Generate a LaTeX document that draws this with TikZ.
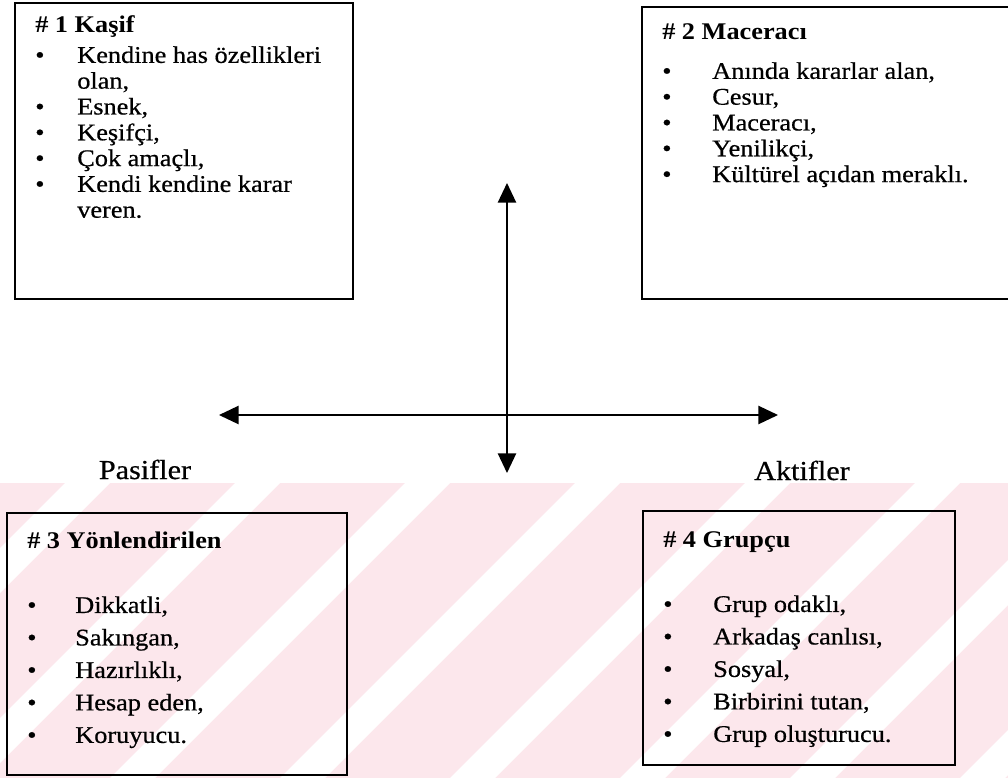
\documentclass[tikz,border=0pt]{standalone}
\usepackage{fontspec}
\setmainfont{Liberation Serif}[FakeStretch=1.1, UprightFeatures={FakeBold=0.6}]
\usetikzlibrary{arrows.meta}

\definecolor{filigran}{RGB}{252,231,236}

\newcommand{\madde}[1]{\textbullet & #1\\}

\tikzset{
  kutu/.style={line width=1.4pt},
  eksen/.style={line width=1.2pt, {Triangle[length=14pt,width=13pt]}-{Triangle[length=14pt,width=13pt]}},
  liste/.style={anchor=base west, inner sep=0pt, font=\fontsize{17}{18.35}\selectfont},
  liste2/.style={anchor=base west, inner sep=0pt, font=\fontsize{17}{23.1}\selectfont},
  yon/.style={anchor=base, inner sep=0pt, font=\fontsize{19.5}{23}\selectfont}
}

\begin{document}
\begin{tikzpicture}[x=0.025cm, y=-0.025cm]
\useasboundingbox (0,0) rectangle (1008,778);

% faint background watermark
\begin{scope}
\clip (0,483) rectangle (1008,778);
\fill[filigran] (0,483) rectangle (1008,778);
\foreach \x in {-400,-230,...,1100}
  \fill[white] (\x,778) -- ++(45,0) -- ++(300,-300) -- ++(-45,0) -- cycle;
\end{scope}

% quadrant boxes
\draw[kutu] (15,3) rectangle (353,299);
\draw[kutu] (642,7) rectangle (1020,299);
\draw[kutu] (7,513) rectangle (347,775);
\draw[kutu] (643,511) rectangle (955,765);

\node[liste] (kasif) at (35,32) {\begin{tabular}[t]{@{}p{1.05cm}@{}l@{}}
\multicolumn{2}{@{}l@{}}{\textbf{\# 1 Kaşif}}\\[3.6pt]
\madde{Kendine has özellikleri}
& olan,\\
\madde{Esnek,}
\madde{Keşifçi,}
\madde{Çok amaçlı,}
\madde{Kendi kendine karar}
& veren.
\end{tabular}};

\node[liste] (maceraci) at (662,39) {\begin{tabular}[t]{@{}p{1.25cm}@{}l@{}}
\multicolumn{2}{@{}l@{}}{\textbf{\# 2 Maceracı}}\\[10pt]
\madde{Anında kararlar alan,}
\madde{Cesur,}
\madde{Maceracı,}
\madde{Yenilikçi,}
\textbullet & Kültürel açıdan meraklı.
\end{tabular}};

\node[liste2] (yonlendirilen) at (27,548) {\begin{tabular}[t]{@{}p{1.2cm}@{}l@{}}
\multicolumn{2}{@{}l@{}}{\textbf{\# 3 Yönlendirilen}}\\[23.1pt]
\madde{Dikkatli,}
\madde{Sakıngan,}
\madde{Hazırlıklı,}
\madde{Hesap eden,}
\textbullet & Koruyucu.
\end{tabular}};

\node[liste2] (grupcu) at (663,547) {\begin{tabular}[t]{@{}p{1.25cm}@{}l@{}}
\multicolumn{2}{@{}l@{}}{\textbf{\# 4 Grupçu}}\\[23.1pt]
\madde{Grup odaklı,}
\madde{Arkadaş canlısı,}
\madde{Sosyal,}
\madde{Birbirini tutan,}
\textbullet & Grup oluşturucu.
\end{tabular}};

% axes
\coordinate (ust) at (507,183);
\coordinate (alt) at (507,473);
\coordinate (sol) at (219,415);
\coordinate (sag) at (778,415);
\draw[eksen] (sol) -- (sag);
\draw[eksen] (alt) -- (ust);

\node[yon] (pasif) at (145,479) {Pasifler};
\node[yon] (aktif) at (802,480) {Aktifler};

\end{tikzpicture}
\end{document}
